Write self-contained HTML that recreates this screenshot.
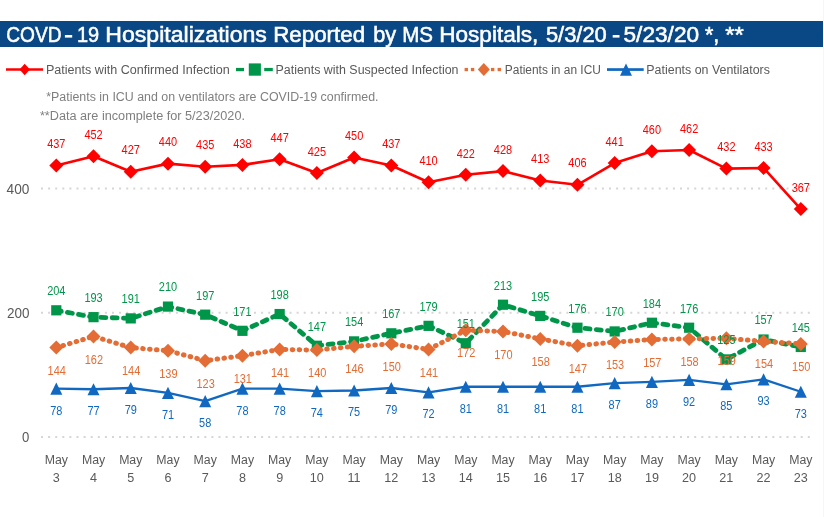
<!DOCTYPE html><html><head><meta charset="utf-8"><style>html,body{margin:0;padding:0;background:#fff;}svg{display:block;will-change:transform;}text{font-family:"Liberation Sans",sans-serif;}</style></head><body>
<svg width="824" height="517" viewBox="0 0 824 517">
<rect x="0" y="0" width="824" height="517" fill="#fff"/>
<rect x="823" y="0" width="1" height="517" fill="#F6F6F6"/>
<rect x="0" y="21" width="823" height="26" fill="#0A4785"/>
<text x="6.20" y="42.00" font-size="21.5" fill="#fff" textLength="55.32" lengthAdjust="spacingAndGlyphs" stroke="#fff" stroke-width="0.55">COVD</text>
<text x="76.90" y="42.00" font-size="21.5" fill="#fff" textLength="22.21" lengthAdjust="spacingAndGlyphs" stroke="#fff" stroke-width="0.55">19</text>
<text x="105.30" y="42.00" font-size="21.5" fill="#fff" textLength="161.62" lengthAdjust="spacingAndGlyphs" stroke="#fff" stroke-width="0.55">Hospitalizations</text>
<text x="273.20" y="42.00" font-size="21.5" fill="#fff" textLength="91.89" lengthAdjust="spacingAndGlyphs" stroke="#fff" stroke-width="0.55">Reported</text>
<text x="373.20" y="42.00" font-size="21.5" fill="#fff" textLength="22.91" lengthAdjust="spacingAndGlyphs" stroke="#fff" stroke-width="0.55">by</text>
<text x="402.20" y="42.00" font-size="21.5" fill="#fff" textLength="30.80" lengthAdjust="spacingAndGlyphs" stroke="#fff" stroke-width="0.55">MS</text>
<text x="439.20" y="42.00" font-size="21.5" fill="#fff" textLength="99.20" lengthAdjust="spacingAndGlyphs" stroke="#fff" stroke-width="0.55">Hospitals,</text>
<text x="545.90" y="42.00" font-size="21.5" fill="#fff" textLength="60.87" lengthAdjust="spacingAndGlyphs" stroke="#fff" stroke-width="0.55">5/3/20</text>
<text x="623.50" y="42.00" font-size="21.5" fill="#fff" textLength="75.58" lengthAdjust="spacingAndGlyphs" stroke="#fff" stroke-width="0.55">5/23/20</text>
<text x="704.90" y="42.00" font-size="21.5" fill="#fff" textLength="14.39" lengthAdjust="spacingAndGlyphs" stroke="#fff" stroke-width="0.55">*,</text>
<text x="725.30" y="42.00" font-size="21.5" fill="#fff" textLength="18.58" lengthAdjust="spacingAndGlyphs" stroke="#fff" stroke-width="0.55">**</text>
<rect x="64.9" y="35.0" width="7.3" height="2.6" fill="#fff"/><rect x="612.7" y="35.0" width="6.8" height="2.6" fill="#fff"/>
<line x1="6" y1="69.5" x2="43" y2="69.5" stroke="#FF0000" stroke-width="2.6"/>
<polygon points="24.7,63.8 29.9,69.5 24.7,75.2 19.5,69.5" fill="#FF0000"/>
<text x="45.90" y="73.70" font-size="12.5" fill="#595959" textLength="183.82" lengthAdjust="spacingAndGlyphs" >Patients with Confirmed Infection</text>
<rect x="236" y="67.9" width="8" height="3.3" fill="#00964A"/><rect x="264.2" y="67.9" width="8.6" height="3.3" fill="#00964A"/>
<rect x="248.8" y="63.4" width="12.1" height="12.3" fill="#00964A"/>
<text x="275.50" y="73.70" font-size="12.5" fill="#595959" textLength="182.98" lengthAdjust="spacingAndGlyphs" >Patients with Suspected Infection</text>
<rect x="464.6" y="67.9" width="3.35" height="3.3" fill="#E46C35"/>
<rect x="470.9" y="67.9" width="3.35" height="3.3" fill="#E46C35"/>
<rect x="491" y="67.9" width="3.35" height="3.3" fill="#E46C35"/>
<rect x="497.6" y="67.9" width="3.35" height="3.3" fill="#E46C35"/>
<polygon points="483.8,63 489.8,69.5 483.8,76 477.8,69.5" fill="#E46C35"/>
<text x="504.80" y="73.70" font-size="12.5" fill="#595959" textLength="96.09" lengthAdjust="spacingAndGlyphs" >Patients in an ICU</text>
<rect x="607" y="68.2" width="36.7" height="2.7" fill="#1068C0"/>
<polygon points="626,63.6 632,75.8 620,75.8" fill="#1068C0"/>
<text x="646.30" y="73.70" font-size="12.5" fill="#595959" textLength="123.68" lengthAdjust="spacingAndGlyphs" >Patients on Ventilators</text>
<text x="46.20" y="100.80" font-size="12" fill="#7F7F7F" textLength="332.30" lengthAdjust="spacingAndGlyphs" >*Patients in ICU and on ventilators are COVID-19 confirmed.</text>
<text x="39.90" y="120.20" font-size="12" fill="#7F7F7F" textLength="205.08" lengthAdjust="spacingAndGlyphs" >**Data are incomplete for 5/23/2020.</text>
<line x1="41" y1="437.10" x2="812" y2="437.10" stroke="#D6D6D6" stroke-width="2" stroke-dasharray="2 5.1"/>
<text x="22.10" y="442.30" font-size="14.3" fill="#595959" textLength="7.30" lengthAdjust="spacingAndGlyphs" >0</text>
<line x1="41" y1="312.80" x2="812" y2="312.80" stroke="#D6D6D6" stroke-width="2" stroke-dasharray="2 5.1"/>
<text x="6.90" y="318.00" font-size="14.3" fill="#595959" textLength="22.51" lengthAdjust="spacingAndGlyphs" >200</text>
<line x1="41" y1="188.50" x2="812" y2="188.50" stroke="#D6D6D6" stroke-width="2" stroke-dasharray="2 5.1"/>
<text x="6.60" y="193.70" font-size="14.3" fill="#595959" textLength="22.81" lengthAdjust="spacingAndGlyphs" >400</text>
<text x="56.30" y="464" font-size="12.3" fill="#595959" text-anchor="middle">May</text>
<text x="56.30" y="482" font-size="12.6" fill="#595959" text-anchor="middle">3</text>
<text x="93.53" y="464" font-size="12.3" fill="#595959" text-anchor="middle">May</text>
<text x="93.53" y="482" font-size="12.6" fill="#595959" text-anchor="middle">4</text>
<text x="130.75" y="464" font-size="12.3" fill="#595959" text-anchor="middle">May</text>
<text x="130.75" y="482" font-size="12.6" fill="#595959" text-anchor="middle">5</text>
<text x="167.98" y="464" font-size="12.3" fill="#595959" text-anchor="middle">May</text>
<text x="167.98" y="482" font-size="12.6" fill="#595959" text-anchor="middle">6</text>
<text x="205.20" y="464" font-size="12.3" fill="#595959" text-anchor="middle">May</text>
<text x="205.20" y="482" font-size="12.6" fill="#595959" text-anchor="middle">7</text>
<text x="242.43" y="464" font-size="12.3" fill="#595959" text-anchor="middle">May</text>
<text x="242.43" y="482" font-size="12.6" fill="#595959" text-anchor="middle">8</text>
<text x="279.65" y="464" font-size="12.3" fill="#595959" text-anchor="middle">May</text>
<text x="279.65" y="482" font-size="12.6" fill="#595959" text-anchor="middle">9</text>
<text x="316.88" y="464" font-size="12.3" fill="#595959" text-anchor="middle">May</text>
<text x="316.88" y="482" font-size="12.6" fill="#595959" text-anchor="middle">10</text>
<text x="354.10" y="464" font-size="12.3" fill="#595959" text-anchor="middle">May</text>
<text x="354.10" y="482" font-size="12.6" fill="#595959" text-anchor="middle">11</text>
<text x="391.33" y="464" font-size="12.3" fill="#595959" text-anchor="middle">May</text>
<text x="391.33" y="482" font-size="12.6" fill="#595959" text-anchor="middle">12</text>
<text x="428.55" y="464" font-size="12.3" fill="#595959" text-anchor="middle">May</text>
<text x="428.55" y="482" font-size="12.6" fill="#595959" text-anchor="middle">13</text>
<text x="465.78" y="464" font-size="12.3" fill="#595959" text-anchor="middle">May</text>
<text x="465.78" y="482" font-size="12.6" fill="#595959" text-anchor="middle">14</text>
<text x="503.00" y="464" font-size="12.3" fill="#595959" text-anchor="middle">May</text>
<text x="503.00" y="482" font-size="12.6" fill="#595959" text-anchor="middle">15</text>
<text x="540.23" y="464" font-size="12.3" fill="#595959" text-anchor="middle">May</text>
<text x="540.23" y="482" font-size="12.6" fill="#595959" text-anchor="middle">16</text>
<text x="577.45" y="464" font-size="12.3" fill="#595959" text-anchor="middle">May</text>
<text x="577.45" y="482" font-size="12.6" fill="#595959" text-anchor="middle">17</text>
<text x="614.67" y="464" font-size="12.3" fill="#595959" text-anchor="middle">May</text>
<text x="614.67" y="482" font-size="12.6" fill="#595959" text-anchor="middle">18</text>
<text x="651.90" y="464" font-size="12.3" fill="#595959" text-anchor="middle">May</text>
<text x="651.90" y="482" font-size="12.6" fill="#595959" text-anchor="middle">19</text>
<text x="689.12" y="464" font-size="12.3" fill="#595959" text-anchor="middle">May</text>
<text x="689.12" y="482" font-size="12.6" fill="#595959" text-anchor="middle">20</text>
<text x="726.35" y="464" font-size="12.3" fill="#595959" text-anchor="middle">May</text>
<text x="726.35" y="482" font-size="12.6" fill="#595959" text-anchor="middle">21</text>
<text x="763.57" y="464" font-size="12.3" fill="#595959" text-anchor="middle">May</text>
<text x="763.57" y="482" font-size="12.6" fill="#595959" text-anchor="middle">22</text>
<text x="800.80" y="464" font-size="12.3" fill="#595959" text-anchor="middle">May</text>
<text x="800.80" y="482" font-size="12.6" fill="#595959" text-anchor="middle">23</text>
<path d="M56.30,165.50 L93.53,156.18 L130.75,171.72 L167.98,163.64 L205.20,166.75 L242.43,164.88 L279.65,159.29 L316.88,172.96 L354.10,157.43 L391.33,165.50 L428.55,182.28 L465.78,174.83 L503.00,171.10 L540.23,180.42 L577.45,184.77 L614.67,163.02 L651.90,151.21 L689.12,149.97 L726.35,168.61 L763.57,167.99 L800.80,209.01" fill="none" stroke="#FF0000" stroke-width="2.6" stroke-linejoin="round"/>
<polygon points="56.30,158.50 63.30,165.50 56.30,172.50 49.30,165.50" fill="#FF0000"/>
<polygon points="93.53,149.18 100.53,156.18 93.53,163.18 86.53,156.18" fill="#FF0000"/>
<polygon points="130.75,164.72 137.75,171.72 130.75,178.72 123.75,171.72" fill="#FF0000"/>
<polygon points="167.98,156.64 174.98,163.64 167.98,170.64 160.98,163.64" fill="#FF0000"/>
<polygon points="205.20,159.75 212.20,166.75 205.20,173.75 198.20,166.75" fill="#FF0000"/>
<polygon points="242.43,157.88 249.43,164.88 242.43,171.88 235.43,164.88" fill="#FF0000"/>
<polygon points="279.65,152.29 286.65,159.29 279.65,166.29 272.65,159.29" fill="#FF0000"/>
<polygon points="316.88,165.96 323.88,172.96 316.88,179.96 309.88,172.96" fill="#FF0000"/>
<polygon points="354.10,150.43 361.10,157.43 354.10,164.43 347.10,157.43" fill="#FF0000"/>
<polygon points="391.33,158.50 398.33,165.50 391.33,172.50 384.33,165.50" fill="#FF0000"/>
<polygon points="428.55,175.28 435.55,182.28 428.55,189.28 421.55,182.28" fill="#FF0000"/>
<polygon points="465.78,167.83 472.78,174.83 465.78,181.83 458.78,174.83" fill="#FF0000"/>
<polygon points="503.00,164.10 510.00,171.10 503.00,178.10 496.00,171.10" fill="#FF0000"/>
<polygon points="540.23,173.42 547.23,180.42 540.23,187.42 533.23,180.42" fill="#FF0000"/>
<polygon points="577.45,177.77 584.45,184.77 577.45,191.77 570.45,184.77" fill="#FF0000"/>
<polygon points="614.67,156.02 621.67,163.02 614.67,170.02 607.67,163.02" fill="#FF0000"/>
<polygon points="651.90,144.21 658.90,151.21 651.90,158.21 644.90,151.21" fill="#FF0000"/>
<polygon points="689.12,142.97 696.12,149.97 689.12,156.97 682.12,149.97" fill="#FF0000"/>
<polygon points="726.35,161.61 733.35,168.61 726.35,175.61 719.35,168.61" fill="#FF0000"/>
<polygon points="763.57,160.99 770.57,167.99 763.57,174.99 756.57,167.99" fill="#FF0000"/>
<polygon points="800.80,202.01 807.80,209.01 800.80,216.01 793.80,209.01" fill="#FF0000"/>
<path d="M56.30,310.31 L93.53,317.15 L130.75,318.39 L167.98,306.59 L205.20,314.66 L242.43,330.82 L279.65,314.04 L316.88,345.74 L354.10,341.39 L391.33,333.31 L428.55,325.85 L465.78,343.25 L503.00,304.72 L540.23,315.91 L577.45,327.72 L614.67,331.44 L651.90,322.74 L689.12,327.72 L726.35,359.41 L763.57,339.52 L800.80,346.98" fill="none" stroke="#00964A" stroke-width="4.8" stroke-linecap="round" stroke-linejoin="round" stroke-dasharray="5 6.3"/>
<rect x="51.20" y="305.21" width="10.20" height="10.20" fill="#00964A"/>
<rect x="88.43" y="312.05" width="10.20" height="10.20" fill="#00964A"/>
<rect x="125.65" y="313.29" width="10.20" height="10.20" fill="#00964A"/>
<rect x="162.88" y="301.49" width="10.20" height="10.20" fill="#00964A"/>
<rect x="200.10" y="309.56" width="10.20" height="10.20" fill="#00964A"/>
<rect x="237.33" y="325.72" width="10.20" height="10.20" fill="#00964A"/>
<rect x="274.55" y="308.94" width="10.20" height="10.20" fill="#00964A"/>
<rect x="311.77" y="340.64" width="10.20" height="10.20" fill="#00964A"/>
<rect x="349.00" y="336.29" width="10.20" height="10.20" fill="#00964A"/>
<rect x="386.23" y="328.21" width="10.20" height="10.20" fill="#00964A"/>
<rect x="423.45" y="320.75" width="10.20" height="10.20" fill="#00964A"/>
<rect x="460.68" y="338.15" width="10.20" height="10.20" fill="#00964A"/>
<rect x="497.90" y="299.62" width="10.20" height="10.20" fill="#00964A"/>
<rect x="535.12" y="310.81" width="10.20" height="10.20" fill="#00964A"/>
<rect x="572.35" y="322.62" width="10.20" height="10.20" fill="#00964A"/>
<rect x="609.57" y="326.34" width="10.20" height="10.20" fill="#00964A"/>
<rect x="646.80" y="317.64" width="10.20" height="10.20" fill="#00964A"/>
<rect x="684.02" y="322.62" width="10.20" height="10.20" fill="#00964A"/>
<rect x="721.25" y="354.31" width="10.20" height="10.20" fill="#00964A"/>
<rect x="758.47" y="334.42" width="10.20" height="10.20" fill="#00964A"/>
<rect x="795.70" y="341.88" width="10.20" height="10.20" fill="#00964A"/>
<path d="M56.30,347.60 L93.53,336.42 L130.75,347.60 L167.98,350.71 L205.20,360.66 L242.43,355.68 L279.65,349.47 L316.88,350.09 L354.10,346.36 L391.33,343.88 L428.55,349.47 L465.78,330.20 L503.00,331.44 L540.23,338.90 L577.45,345.74 L614.67,342.01 L651.90,339.52 L689.12,338.90 L726.35,338.28 L763.57,341.39 L800.80,343.88" fill="none" stroke="#E46C35" stroke-width="5" stroke-linecap="round" stroke-linejoin="round" stroke-dasharray="0.6 6.3"/>
<polygon points="56.30,340.60 63.30,347.60 56.30,354.60 49.30,347.60" fill="#E46C35"/>
<polygon points="93.53,329.42 100.53,336.42 93.53,343.42 86.53,336.42" fill="#E46C35"/>
<polygon points="130.75,340.60 137.75,347.60 130.75,354.60 123.75,347.60" fill="#E46C35"/>
<polygon points="167.98,343.71 174.98,350.71 167.98,357.71 160.98,350.71" fill="#E46C35"/>
<polygon points="205.20,353.66 212.20,360.66 205.20,367.66 198.20,360.66" fill="#E46C35"/>
<polygon points="242.43,348.68 249.43,355.68 242.43,362.68 235.43,355.68" fill="#E46C35"/>
<polygon points="279.65,342.47 286.65,349.47 279.65,356.47 272.65,349.47" fill="#E46C35"/>
<polygon points="316.88,343.09 323.88,350.09 316.88,357.09 309.88,350.09" fill="#E46C35"/>
<polygon points="354.10,339.36 361.10,346.36 354.10,353.36 347.10,346.36" fill="#E46C35"/>
<polygon points="391.33,336.88 398.33,343.88 391.33,350.88 384.33,343.88" fill="#E46C35"/>
<polygon points="428.55,342.47 435.55,349.47 428.55,356.47 421.55,349.47" fill="#E46C35"/>
<polygon points="465.78,323.20 472.78,330.20 465.78,337.20 458.78,330.20" fill="#E46C35"/>
<polygon points="503.00,324.44 510.00,331.44 503.00,338.44 496.00,331.44" fill="#E46C35"/>
<polygon points="540.23,331.90 547.23,338.90 540.23,345.90 533.23,338.90" fill="#E46C35"/>
<polygon points="577.45,338.74 584.45,345.74 577.45,352.74 570.45,345.74" fill="#E46C35"/>
<polygon points="614.67,335.01 621.67,342.01 614.67,349.01 607.67,342.01" fill="#E46C35"/>
<polygon points="651.90,332.52 658.90,339.52 651.90,346.52 644.90,339.52" fill="#E46C35"/>
<polygon points="689.12,331.90 696.12,338.90 689.12,345.90 682.12,338.90" fill="#E46C35"/>
<polygon points="726.35,331.28 733.35,338.28 726.35,345.28 719.35,338.28" fill="#E46C35"/>
<polygon points="763.57,334.39 770.57,341.39 763.57,348.39 756.57,341.39" fill="#E46C35"/>
<polygon points="800.80,336.88 807.80,343.88 800.80,350.88 793.80,343.88" fill="#E46C35"/>
<path d="M56.30,388.62 L93.53,389.24 L130.75,388.00 L167.98,392.97 L205.20,401.05 L242.43,388.62 L279.65,388.62 L316.88,391.11 L354.10,390.49 L391.33,388.00 L428.55,392.35 L465.78,386.76 L503.00,386.76 L540.23,386.76 L577.45,386.76 L614.67,383.03 L651.90,381.79 L689.12,379.92 L726.35,384.27 L763.57,379.30 L800.80,391.73" fill="none" stroke="#1068C0" stroke-width="2.3" stroke-linejoin="round"/>
<polygon points="56.30,382.52 62.30,394.72 50.30,394.72" fill="#1068C0"/>
<polygon points="93.53,383.14 99.53,395.34 87.53,395.34" fill="#1068C0"/>
<polygon points="130.75,381.90 136.75,394.10 124.75,394.10" fill="#1068C0"/>
<polygon points="167.98,386.87 173.98,399.07 161.98,399.07" fill="#1068C0"/>
<polygon points="205.20,394.95 211.20,407.15 199.20,407.15" fill="#1068C0"/>
<polygon points="242.43,382.52 248.43,394.72 236.43,394.72" fill="#1068C0"/>
<polygon points="279.65,382.52 285.65,394.72 273.65,394.72" fill="#1068C0"/>
<polygon points="316.88,385.01 322.88,397.21 310.88,397.21" fill="#1068C0"/>
<polygon points="354.10,384.39 360.10,396.59 348.10,396.59" fill="#1068C0"/>
<polygon points="391.33,381.90 397.33,394.10 385.33,394.10" fill="#1068C0"/>
<polygon points="428.55,386.25 434.55,398.45 422.55,398.45" fill="#1068C0"/>
<polygon points="465.78,380.66 471.78,392.86 459.78,392.86" fill="#1068C0"/>
<polygon points="503.00,380.66 509.00,392.86 497.00,392.86" fill="#1068C0"/>
<polygon points="540.23,380.66 546.23,392.86 534.23,392.86" fill="#1068C0"/>
<polygon points="577.45,380.66 583.45,392.86 571.45,392.86" fill="#1068C0"/>
<polygon points="614.67,376.93 620.67,389.13 608.67,389.13" fill="#1068C0"/>
<polygon points="651.90,375.69 657.90,387.89 645.90,387.89" fill="#1068C0"/>
<polygon points="689.12,373.82 695.12,386.02 683.12,386.02" fill="#1068C0"/>
<polygon points="726.35,378.17 732.35,390.37 720.35,390.37" fill="#1068C0"/>
<polygon points="763.57,373.20 769.57,385.40 757.57,385.40" fill="#1068C0"/>
<polygon points="800.80,385.63 806.80,397.83 794.80,397.83" fill="#1068C0"/>
<text x="47.15" y="148.20" font-size="12.6" fill="#FF0000" textLength="18.30" lengthAdjust="spacingAndGlyphs">437</text>
<text x="84.38" y="138.88" font-size="12.6" fill="#FF0000" textLength="18.30" lengthAdjust="spacingAndGlyphs">452</text>
<text x="121.60" y="154.42" font-size="12.6" fill="#FF0000" textLength="18.30" lengthAdjust="spacingAndGlyphs">427</text>
<text x="158.83" y="146.34" font-size="12.6" fill="#FF0000" textLength="18.30" lengthAdjust="spacingAndGlyphs">440</text>
<text x="196.05" y="149.45" font-size="12.6" fill="#FF0000" textLength="18.30" lengthAdjust="spacingAndGlyphs">435</text>
<text x="233.28" y="147.58" font-size="12.6" fill="#FF0000" textLength="18.30" lengthAdjust="spacingAndGlyphs">438</text>
<text x="270.50" y="141.99" font-size="12.6" fill="#FF0000" textLength="18.30" lengthAdjust="spacingAndGlyphs">447</text>
<text x="307.73" y="155.66" font-size="12.6" fill="#FF0000" textLength="18.30" lengthAdjust="spacingAndGlyphs">425</text>
<text x="344.95" y="140.12" font-size="12.6" fill="#FF0000" textLength="18.30" lengthAdjust="spacingAndGlyphs">450</text>
<text x="382.18" y="148.20" font-size="12.6" fill="#FF0000" textLength="18.30" lengthAdjust="spacingAndGlyphs">437</text>
<text x="419.40" y="164.98" font-size="12.6" fill="#FF0000" textLength="18.30" lengthAdjust="spacingAndGlyphs">410</text>
<text x="456.63" y="157.53" font-size="12.6" fill="#FF0000" textLength="18.30" lengthAdjust="spacingAndGlyphs">422</text>
<text x="493.85" y="153.80" font-size="12.6" fill="#FF0000" textLength="18.30" lengthAdjust="spacingAndGlyphs">428</text>
<text x="531.08" y="163.12" font-size="12.6" fill="#FF0000" textLength="18.30" lengthAdjust="spacingAndGlyphs">413</text>
<text x="568.30" y="167.47" font-size="12.6" fill="#FF0000" textLength="18.30" lengthAdjust="spacingAndGlyphs">406</text>
<text x="605.52" y="145.72" font-size="12.6" fill="#FF0000" textLength="18.30" lengthAdjust="spacingAndGlyphs">441</text>
<text x="642.75" y="133.91" font-size="12.6" fill="#FF0000" textLength="18.30" lengthAdjust="spacingAndGlyphs">460</text>
<text x="679.98" y="132.67" font-size="12.6" fill="#FF0000" textLength="18.30" lengthAdjust="spacingAndGlyphs">462</text>
<text x="717.20" y="151.31" font-size="12.6" fill="#FF0000" textLength="18.30" lengthAdjust="spacingAndGlyphs">432</text>
<text x="754.42" y="150.69" font-size="12.6" fill="#FF0000" textLength="18.30" lengthAdjust="spacingAndGlyphs">433</text>
<text x="791.65" y="191.71" font-size="12.6" fill="#FF0000" textLength="18.30" lengthAdjust="spacingAndGlyphs">367</text>
<text x="47.15" y="295.21" font-size="12.6" fill="#00964A" textLength="18.30" lengthAdjust="spacingAndGlyphs">204</text>
<text x="84.38" y="302.05" font-size="12.6" fill="#00964A" textLength="18.30" lengthAdjust="spacingAndGlyphs">193</text>
<text x="121.60" y="303.29" font-size="12.6" fill="#00964A" textLength="18.30" lengthAdjust="spacingAndGlyphs">191</text>
<text x="158.83" y="291.49" font-size="12.6" fill="#00964A" textLength="18.30" lengthAdjust="spacingAndGlyphs">210</text>
<text x="196.05" y="299.56" font-size="12.6" fill="#00964A" textLength="18.30" lengthAdjust="spacingAndGlyphs">197</text>
<text x="233.28" y="315.72" font-size="12.6" fill="#00964A" textLength="18.30" lengthAdjust="spacingAndGlyphs">171</text>
<text x="270.50" y="298.94" font-size="12.6" fill="#00964A" textLength="18.30" lengthAdjust="spacingAndGlyphs">198</text>
<text x="307.73" y="330.64" font-size="12.6" fill="#00964A" textLength="18.30" lengthAdjust="spacingAndGlyphs">147</text>
<text x="344.95" y="326.29" font-size="12.6" fill="#00964A" textLength="18.30" lengthAdjust="spacingAndGlyphs">154</text>
<text x="382.18" y="318.21" font-size="12.6" fill="#00964A" textLength="18.30" lengthAdjust="spacingAndGlyphs">167</text>
<text x="419.40" y="310.75" font-size="12.6" fill="#00964A" textLength="18.30" lengthAdjust="spacingAndGlyphs">179</text>
<text x="456.63" y="328.15" font-size="12.6" fill="#00964A" textLength="18.30" lengthAdjust="spacingAndGlyphs">151</text>
<text x="493.85" y="289.62" font-size="12.6" fill="#00964A" textLength="18.30" lengthAdjust="spacingAndGlyphs">213</text>
<text x="531.08" y="300.81" font-size="12.6" fill="#00964A" textLength="18.30" lengthAdjust="spacingAndGlyphs">195</text>
<text x="568.30" y="312.62" font-size="12.6" fill="#00964A" textLength="18.30" lengthAdjust="spacingAndGlyphs">176</text>
<text x="605.52" y="316.34" font-size="12.6" fill="#00964A" textLength="18.30" lengthAdjust="spacingAndGlyphs">170</text>
<text x="642.75" y="307.64" font-size="12.6" fill="#00964A" textLength="18.30" lengthAdjust="spacingAndGlyphs">184</text>
<text x="679.98" y="312.62" font-size="12.6" fill="#00964A" textLength="18.30" lengthAdjust="spacingAndGlyphs">176</text>
<text x="717.20" y="344.31" font-size="12.6" fill="#00964A" textLength="18.30" lengthAdjust="spacingAndGlyphs">125</text>
<text x="754.42" y="324.42" font-size="12.6" fill="#00964A" textLength="18.30" lengthAdjust="spacingAndGlyphs">157</text>
<text x="791.65" y="331.88" font-size="12.6" fill="#00964A" textLength="18.30" lengthAdjust="spacingAndGlyphs">145</text>
<text x="47.55" y="374.70" font-size="12.6" fill="#E46C35" textLength="18.30" lengthAdjust="spacingAndGlyphs">144</text>
<text x="84.78" y="363.52" font-size="12.6" fill="#E46C35" textLength="18.30" lengthAdjust="spacingAndGlyphs">162</text>
<text x="122.00" y="374.70" font-size="12.6" fill="#E46C35" textLength="18.30" lengthAdjust="spacingAndGlyphs">144</text>
<text x="159.23" y="377.81" font-size="12.6" fill="#E46C35" textLength="18.30" lengthAdjust="spacingAndGlyphs">139</text>
<text x="196.45" y="387.76" font-size="12.6" fill="#E46C35" textLength="18.30" lengthAdjust="spacingAndGlyphs">123</text>
<text x="233.68" y="382.78" font-size="12.6" fill="#E46C35" textLength="18.30" lengthAdjust="spacingAndGlyphs">131</text>
<text x="270.90" y="376.57" font-size="12.6" fill="#E46C35" textLength="18.30" lengthAdjust="spacingAndGlyphs">141</text>
<text x="308.12" y="377.19" font-size="12.6" fill="#E46C35" textLength="18.30" lengthAdjust="spacingAndGlyphs">140</text>
<text x="345.35" y="373.46" font-size="12.6" fill="#E46C35" textLength="18.30" lengthAdjust="spacingAndGlyphs">146</text>
<text x="382.58" y="370.98" font-size="12.6" fill="#E46C35" textLength="18.30" lengthAdjust="spacingAndGlyphs">150</text>
<text x="419.80" y="376.57" font-size="12.6" fill="#E46C35" textLength="18.30" lengthAdjust="spacingAndGlyphs">141</text>
<text x="457.03" y="357.30" font-size="12.6" fill="#E46C35" textLength="18.30" lengthAdjust="spacingAndGlyphs">172</text>
<text x="494.25" y="358.55" font-size="12.6" fill="#E46C35" textLength="18.30" lengthAdjust="spacingAndGlyphs">170</text>
<text x="531.48" y="366.00" font-size="12.6" fill="#E46C35" textLength="18.30" lengthAdjust="spacingAndGlyphs">158</text>
<text x="568.70" y="372.84" font-size="12.6" fill="#E46C35" textLength="18.30" lengthAdjust="spacingAndGlyphs">147</text>
<text x="605.92" y="369.11" font-size="12.6" fill="#E46C35" textLength="18.30" lengthAdjust="spacingAndGlyphs">153</text>
<text x="643.15" y="366.62" font-size="12.6" fill="#E46C35" textLength="18.30" lengthAdjust="spacingAndGlyphs">157</text>
<text x="680.38" y="366.00" font-size="12.6" fill="#E46C35" textLength="18.30" lengthAdjust="spacingAndGlyphs">158</text>
<text x="717.60" y="365.38" font-size="12.6" fill="#E46C35" textLength="18.30" lengthAdjust="spacingAndGlyphs">159</text>
<text x="754.82" y="368.49" font-size="12.6" fill="#E46C35" textLength="18.30" lengthAdjust="spacingAndGlyphs">154</text>
<text x="792.05" y="370.98" font-size="12.6" fill="#E46C35" textLength="18.30" lengthAdjust="spacingAndGlyphs">150</text>
<text x="50.20" y="414.62" font-size="12.6" fill="#1068C0" textLength="12.20" lengthAdjust="spacingAndGlyphs">78</text>
<text x="87.43" y="415.24" font-size="12.6" fill="#1068C0" textLength="12.20" lengthAdjust="spacingAndGlyphs">77</text>
<text x="124.65" y="414.00" font-size="12.6" fill="#1068C0" textLength="12.20" lengthAdjust="spacingAndGlyphs">79</text>
<text x="161.88" y="418.97" font-size="12.6" fill="#1068C0" textLength="12.20" lengthAdjust="spacingAndGlyphs">71</text>
<text x="199.10" y="427.05" font-size="12.6" fill="#1068C0" textLength="12.20" lengthAdjust="spacingAndGlyphs">58</text>
<text x="236.33" y="414.62" font-size="12.6" fill="#1068C0" textLength="12.20" lengthAdjust="spacingAndGlyphs">78</text>
<text x="273.55" y="414.62" font-size="12.6" fill="#1068C0" textLength="12.20" lengthAdjust="spacingAndGlyphs">78</text>
<text x="310.77" y="417.11" font-size="12.6" fill="#1068C0" textLength="12.20" lengthAdjust="spacingAndGlyphs">74</text>
<text x="348.00" y="416.49" font-size="12.6" fill="#1068C0" textLength="12.20" lengthAdjust="spacingAndGlyphs">75</text>
<text x="385.23" y="414.00" font-size="12.6" fill="#1068C0" textLength="12.20" lengthAdjust="spacingAndGlyphs">79</text>
<text x="422.45" y="418.35" font-size="12.6" fill="#1068C0" textLength="12.20" lengthAdjust="spacingAndGlyphs">72</text>
<text x="459.68" y="412.76" font-size="12.6" fill="#1068C0" textLength="12.20" lengthAdjust="spacingAndGlyphs">81</text>
<text x="496.90" y="412.76" font-size="12.6" fill="#1068C0" textLength="12.20" lengthAdjust="spacingAndGlyphs">81</text>
<text x="534.12" y="412.76" font-size="12.6" fill="#1068C0" textLength="12.20" lengthAdjust="spacingAndGlyphs">81</text>
<text x="571.35" y="412.76" font-size="12.6" fill="#1068C0" textLength="12.20" lengthAdjust="spacingAndGlyphs">81</text>
<text x="608.57" y="409.03" font-size="12.6" fill="#1068C0" textLength="12.20" lengthAdjust="spacingAndGlyphs">87</text>
<text x="645.80" y="407.79" font-size="12.6" fill="#1068C0" textLength="12.20" lengthAdjust="spacingAndGlyphs">89</text>
<text x="683.02" y="405.92" font-size="12.6" fill="#1068C0" textLength="12.20" lengthAdjust="spacingAndGlyphs">92</text>
<text x="720.25" y="410.27" font-size="12.6" fill="#1068C0" textLength="12.20" lengthAdjust="spacingAndGlyphs">85</text>
<text x="757.47" y="405.30" font-size="12.6" fill="#1068C0" textLength="12.20" lengthAdjust="spacingAndGlyphs">93</text>
<text x="794.70" y="417.73" font-size="12.6" fill="#1068C0" textLength="12.20" lengthAdjust="spacingAndGlyphs">73</text>
</svg></body></html>
